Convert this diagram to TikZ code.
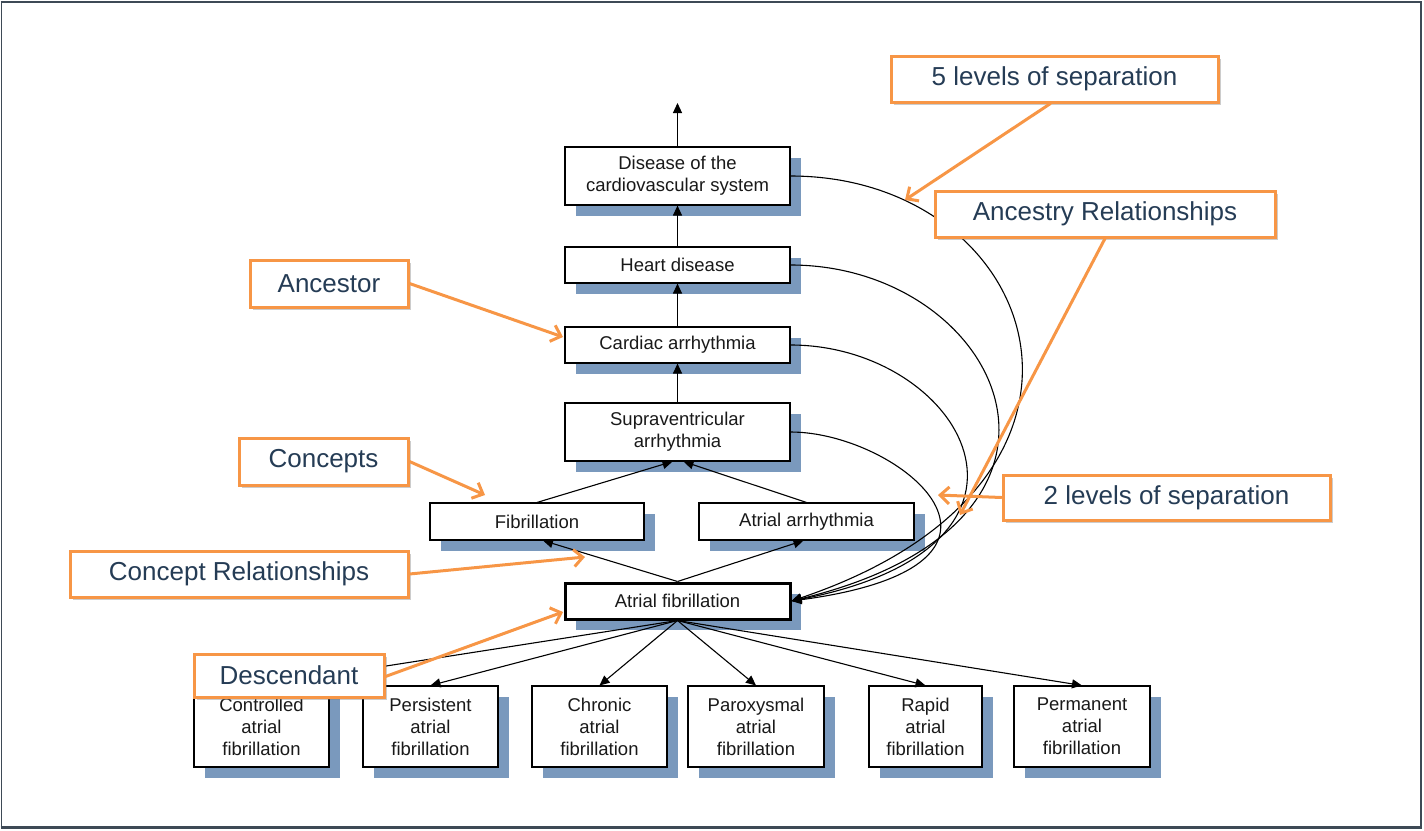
\documentclass[tikz,border=0pt]{standalone}
\usepackage{fontspec}
\setmainfont{Liberation Sans}
\usetikzlibrary{arrows.meta,shadows,calc}
\definecolor{shadowblue}{RGB}{122,153,189}
\definecolor{calloutorange}{RGB}{247,150,70}
\definecolor{callouttext}{RGB}{37,60,85}
\definecolor{framegray}{RGB}{62,74,86}
\begin{document}
\begin{tikzpicture}[x=1pt,y=-1pt,
  concept/.style={draw=black, line width=1.1pt, fill=white, inner sep=0pt, align=center,
    font=\fontsize{18.5}{22}\selectfont, text=black!90,
    general shadow={fill=shadowblue, shadow xshift=11pt, shadow yshift=-11pt}},
  focus/.style={concept, line width=3pt},
  callout/.style={draw=calloutorange, line width=3pt, fill=white, inner sep=0pt,
    font=\fontsize{26}{30}\selectfont, text=callouttext,
    drop shadow={shadow xshift=3pt, shadow yshift=-3pt, opacity=0.4, fill=black!50}},
  isa/.style={draw=black, line width=1.1pt, -{Triangle[length=10pt,width=9pt]}},
  anc/.style={draw=black, line width=1.1pt, -{Triangle[length=10pt,width=9pt]}},
  oarrow/.style={draw=calloutorange, line width=3pt, line cap=round, -{Straight Barb[length=9pt,width=17pt]}}
]
\useasboundingbox (0,0) rectangle (1424,830);
% frame
\draw[framegray, line width=1.2pt] (1.5,2) rectangle (1421,827);
\draw[framegray, line width=2.5pt] (0.5,2) -- (1422,2);
\draw[framegray, line width=3pt] (0.5,827) -- (1422,827);

% concept nodes
\node[concept, minimum width=225pt, minimum height=58pt] (dis) at (677.5,176) {Disease of the\\cardiovascular system};
\node[concept, minimum width=225pt, minimum height=36pt] (heart) at (677.5,265) {Heart disease};
\node[concept, minimum width=225pt, minimum height=36pt] (card) at (677.5,345) {Cardiac arrhythmia};
\node[concept, minimum width=225pt, minimum height=58pt] (supra) at (677.5,432) {Supraventricular\\arrhythmia};
\node[concept, minimum width=214pt, minimum height=37pt] (fib) at (537,521.5) {Fibrillation};
\node[concept, minimum width=215pt, minimum height=37pt] (aarr) at (806.5,521.5) {Atrial arrhythmia};
\node[focus, minimum width=225pt, minimum height=36pt] (af) at (677.5,601) {Atrial fibrillation};
\node[concept, minimum width=135pt, minimum height=81pt] (ctrl) at (261.5,726.5) {Controlled\\atrial\\fibrillation};
\node[concept, minimum width=135pt, minimum height=81pt] (pers) at (430.5,726.5) {Persistent\\atrial\\fibrillation};
\node[concept, minimum width=135pt, minimum height=81pt] (chron) at (599.5,726.5) {Chronic\\atrial\\fibrillation};
\node[concept, minimum width=136pt, minimum height=81pt] (parox) at (756,726.5) {Paroxysmal\\atrial\\fibrillation};
\node[concept, minimum width=113pt, minimum height=81pt] (rapid) at (925.5,726.5) {Rapid\\atrial\\fibrillation};
\node[concept, minimum width=136pt, minimum height=81pt] (perm) at (1082,726.5) {Permanent\\atrial\\fibrillation};

% is-a arrows
\coordinate (topend) at (677.5,103);
\draw[isa] (dis.north) -- (topend);
\draw[isa] (heart.north) -- (dis.south);
\draw[isa] (card.north) -- (heart.south);
\draw[isa] (supra.north) -- (card.south);
\draw[isa] (fib.north) -- ([xshift=-5pt]supra.south);
\draw[isa] (aarr.north) -- ([xshift=6pt]supra.south);
\draw[isa] (af.north) -- ([xshift=6pt]fib.south);
\draw[isa] (af.north) -- ([xshift=-3pt]aarr.south);
\foreach \n in {ctrl,pers,chron,parox,rapid,perm}
  \draw[isa] (af.south) -- (\n.north);

% ancestry curves
\draw[anc] (dis.east) .. controls (1040,176) and (1150,480) .. (af.east);
\draw[anc] (heart.east) .. controls (1000,265) and (1125,520) .. (af.east);
\draw[anc] (card.east) .. controls (960,345) and (1080,545) .. (af.east);
\draw[anc] (supra.east) .. controls (900,432) and (1060,565) .. (af.east);

% callouts
\node[callout, minimum width=327pt, minimum height=46pt] (c5) at (1054.5,79) {5 levels of separation};
\node[callout, minimum width=340pt, minimum height=46pt] (cancr) at (1105,214) {Ancestry Relationships};
\node[callout, minimum width=327pt, minimum height=45pt] (c2) at (1166.5,497.5) {2 levels of separation};
\node[callout, minimum width=158pt, minimum height=47pt] (cancestor) at (329,283.5) {Ancestor};
\node[callout, minimum width=169pt, minimum height=47pt] (cconc) at (323.5,461.5) {Concepts};
\node[callout, minimum width=338pt, minimum height=46pt] (crel) at (239,574) {Concept Relationships};
\node[callout, minimum width=190pt, minimum height=43pt] (cdesc) at (289,675.5) {Descendant};

\coordinate (t5) at (905,200);
\coordinate (tancr) at (960,515);
\coordinate (t2) at (938,495);
\coordinate (tancestor) at (563,337);
\coordinate (tconc) at (485,495);
\coordinate (trel) at (585,557);
\coordinate (tdesc) at (563,612);

\draw[oarrow] ([xshift=-4pt]c5.south) -- (t5);
\draw[oarrow] (cancr.south) -- (tancr);
\draw[oarrow] (c2.west) -- (t2);
\draw[oarrow] (cancestor.east) -- (tancestor);
\draw[oarrow] (cconc.east) -- (tconc);
\draw[oarrow] (crel.east) -- (trel);
\draw[oarrow] ([yshift=-1pt]cdesc.east) -- (tdesc);
\end{tikzpicture}
\end{document}
